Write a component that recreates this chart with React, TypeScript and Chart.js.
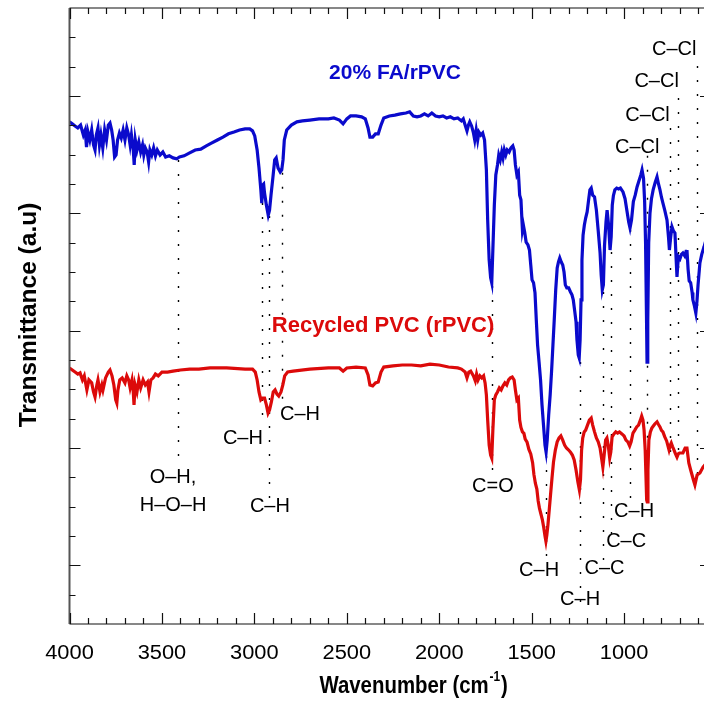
import React, { useEffect, useRef } from "react";
import { Chart, registerables } from "chart.js";

Chart.register(...registerables);

// ---------- axes ----------
const xMin = 530;
const xMax = 4000;
const xTickValues = [4000, 3500, 3000, 2500, 2000, 1500, 1000];
const xTickLabels = ["4000", "3500", "3000", "2500", "2000", "1500", "1000"];
const xMinorStep = 100;
const yMin = 0;
const yMax = 21;
const yMajorTicks = [2, 6, 10, 14, 18];
const xTitle = "Wavenumber (cm";
const xTitleSup = "-1";
const yTitle = "Transmittance (a.u)";

// ---------- series ----------
const seriesNames = ["20% FA/rPVC", "Recycled PVC (rPVC)"];

const faSpectrum: [number, number][] = [
  [4000, 17.12], [3985, 17.05], [3970, 16.98], [3955, 16.91], [3940, 17.01], [3925, 16.67], [3915, 16.84], [3908, 16.26],
  [3900, 16.77], [3890, 16.5], [3880, 16.84], [3870, 16.33], [3862, 16.16], [3855, 16.67], [3846, 16.91], [3838, 16.33],
  [3830, 16.67], [3820, 16.23], [3810, 16.84], [3800, 16.5], [3790, 17.01], [3781, 17.08], [3772, 16.84], [3764, 16.5],
  [3756, 15.92], [3748, 15.99], [3740, 16.5], [3730, 16.74], [3720, 16.57], [3710, 16.84], [3700, 16.5], [3690, 16.91],
  [3680, 16.67], [3672, 16.33], [3665, 16.67], [3655, 16.16], [3650, 15.65], [3644, 16.5], [3635, 16.16], [3625, 16.43],
  [3615, 16.09], [3605, 16.33], [3598, 15.99], [3590, 16.23], [3580, 16.09], [3572, 15.75], [3565, 16.16], [3555, 15.99],
  [3545, 16.23], [3535, 15.96], [3525, 16.16], [3510, 15.99], [3495, 16.09], [3480, 15.92], [3460, 15.96], [3440, 15.89],
  [3420, 15.86], [3405, 15.92], [3380, 15.96], [3350, 16.06], [3320, 16.16], [3290, 16.19], [3260, 16.3], [3230, 16.4],
  [3200, 16.5], [3170, 16.6], [3140, 16.71], [3110, 16.77], [3080, 16.84], [3050, 16.88], [3025, 16.88], [3010, 16.81],
  [2998, 16.64], [2985, 16.16], [2975, 15.55], [2965, 14.8], [2960, 14.35], [2955, 14.97], [2950, 15.0], [2945, 14.69],
  [2935, 14.28], [2925, 13.94], [2918, 14.11], [2910, 14.62], [2900, 15.21], [2890, 15.82], [2882, 15.89], [2872, 15.55],
  [2860, 15.41], [2852, 15.48], [2845, 15.82], [2838, 16.5], [2825, 16.84], [2800, 17.01], [2770, 17.12], [2740, 17.15],
  [2700, 17.18], [2650, 17.22], [2600, 17.22], [2570, 17.25], [2540, 17.18], [2520, 17.05], [2500, 17.22], [2480, 17.32],
  [2450, 17.32], [2420, 17.29], [2400, 17.22], [2385, 16.91], [2375, 16.6], [2360, 16.6], [2345, 16.71], [2330, 16.71],
  [2315, 17.01], [2300, 17.25], [2270, 17.32], [2240, 17.35], [2210, 17.39], [2180, 17.42], [2160, 17.46], [2140, 17.32],
  [2120, 17.29], [2100, 17.32], [2080, 17.39], [2060, 17.32], [2040, 17.42], [2020, 17.32], [2000, 17.29], [1980, 17.32],
  [1960, 17.25], [1940, 17.29], [1920, 17.22], [1900, 17.25], [1880, 17.15], [1870, 17.22], [1860, 17.01], [1850, 16.81],
  [1842, 17.01], [1835, 17.12], [1825, 16.98], [1815, 16.74], [1808, 16.5], [1800, 16.84], [1792, 16.5], [1785, 16.77],
  [1775, 16.67], [1765, 16.74], [1755, 16.5], [1745, 15.48], [1738, 13.77], [1730, 12.41], [1722, 11.8], [1716, 11.63],
  [1710, 12.75], [1702, 14.28], [1694, 15.31], [1685, 15.65], [1678, 15.99], [1670, 15.82], [1662, 16.09], [1655, 15.89],
  [1648, 16.16], [1640, 15.99], [1632, 16.16], [1622, 16.09], [1612, 16.23], [1602, 16.3], [1595, 16.16], [1588, 15.65],
  [1580, 15.31], [1572, 15.41], [1565, 14.62], [1558, 14.46], [1550, 13.43], [1545, 13.6], [1538, 13.36], [1530, 13.02],
  [1520, 12.92], [1512, 12.75], [1505, 12.24], [1498, 11.73], [1490, 11.63], [1482, 11.29], [1475, 10.36], [1468, 9.51],
  [1460, 8.93], [1452, 8.32], [1444, 7.46], [1436, 6.78], [1428, 6.1], [1422, 5.86], [1416, 6.27], [1408, 7.13],
  [1400, 7.81], [1392, 8.66], [1385, 9.51], [1378, 10.36], [1370, 11.39], [1362, 12.14], [1355, 12.34], [1348, 12.48],
  [1340, 12.34], [1332, 12.24], [1325, 12.0], [1318, 11.56], [1310, 11.46], [1300, 11.46], [1290, 11.32], [1282, 11.22],
  [1275, 11.05], [1268, 10.71], [1260, 10.3], [1255, 9.68], [1248, 9.17], [1243, 9.07], [1238, 9.68], [1233, 11.05],
  [1228, 12.41], [1222, 13.26], [1215, 13.6], [1208, 13.84], [1200, 14.05], [1192, 14.46], [1185, 14.8], [1178, 14.86],
  [1170, 14.62], [1160, 14.56], [1150, 14.11], [1140, 13.4], [1130, 12.65], [1124, 11.9], [1118, 11.39], [1112, 11.56],
  [1106, 12.9], [1098, 13.7], [1092, 14.11], [1084, 13.6], [1076, 12.75], [1070, 13.2], [1064, 14.28], [1058, 14.6],
  [1050, 14.8], [1040, 14.86], [1030, 14.83], [1020, 14.86], [1006, 14.73], [995, 14.5], [985, 14.1], [975, 13.7],
  [968, 13.5], [960, 13.77], [950, 14.4], [940, 14.62], [930, 14.9], [920, 15.1], [910, 15.3], [903, 15.48],
  [895, 15.2], [889, 14.4], [884, 13.0], [879, 10.5], [876, 8.93], [872, 10.3], [867, 13.0], [860, 14.01],
  [852, 14.5], [843, 14.8], [832, 15.05], [822, 15.24], [814, 15.0], [806, 14.8], [798, 14.55], [790, 14.35],
  [780, 14.1], [768, 13.77], [760, 13.2], [755, 12.75], [748, 13.2], [741, 13.54], [733, 13.4], [725, 13.33],
  [719, 12.5], [714, 11.83], [709, 12.3], [705, 12.51], [698, 12.45], [690, 12.6], [682, 12.65], [672, 12.55],
  [665, 12.7], [660, 12.75], [654, 12.1], [648, 11.7], [640, 11.63], [632, 11.3], [628, 11.05], [620, 10.85],
  [612, 10.6], [606, 11.0], [600, 11.56], [590, 12.31], [580, 12.6], [568, 12.85], [550, 13.26], [530, 13.5],
];

const rpvcSpectrum: [number, number][] = [
  [4000, 8.73], [3985, 8.66], [3970, 8.59], [3955, 8.52], [3943, 8.56], [3930, 8.32], [3920, 8.46], [3906, 7.98],
  [3895, 8.32], [3880, 8.22], [3870, 7.91], [3862, 7.74], [3852, 8.15], [3846, 8.32], [3835, 7.91], [3825, 8.15],
  [3819, 7.98], [3805, 8.39], [3790, 8.59], [3781, 8.66], [3770, 8.46], [3760, 8.15], [3750, 7.64], [3744, 7.53],
  [3738, 7.98], [3728, 8.32], [3715, 8.39], [3700, 8.22], [3690, 8.46], [3680, 8.32], [3672, 8.05], [3662, 8.32],
  [3655, 7.91], [3651, 7.47], [3645, 8.15], [3635, 7.91], [3625, 8.32], [3615, 8.05], [3602, 8.32], [3590, 8.15],
  [3578, 8.25], [3570, 7.91], [3560, 8.32], [3548, 8.39], [3535, 8.52], [3520, 8.46], [3500, 8.59], [3470, 8.59],
  [3440, 8.62], [3400, 8.66], [3350, 8.69], [3300, 8.69], [3240, 8.73], [3150, 8.73], [3050, 8.69], [3010, 8.69],
  [2995, 8.59], [2985, 8.32], [2975, 7.91], [2965, 7.64], [2955, 7.7], [2945, 7.7], [2935, 7.47], [2926, 7.19],
  [2918, 7.3], [2908, 7.57], [2898, 7.91], [2888, 7.98], [2878, 7.84], [2868, 7.77], [2856, 7.91], [2846, 8.15],
  [2836, 8.46], [2820, 8.59], [2790, 8.62], [2700, 8.69], [2600, 8.73], [2540, 8.73], [2520, 8.62], [2500, 8.73],
  [2450, 8.76], [2400, 8.73], [2385, 8.49], [2375, 8.15], [2360, 8.12], [2345, 8.22], [2330, 8.25], [2315, 8.59],
  [2300, 8.76], [2250, 8.8], [2200, 8.83], [2150, 8.83], [2100, 8.8], [2050, 8.86], [2000, 8.83], [1950, 8.76],
  [1900, 8.73], [1880, 8.69], [1860, 8.59], [1850, 8.39], [1840, 8.59], [1830, 8.62], [1815, 8.46], [1805, 8.29],
  [1798, 8.52], [1790, 8.32], [1780, 8.46], [1770, 8.39], [1760, 8.46], [1752, 8.22], [1745, 7.81], [1738, 6.95],
  [1730, 6.1], [1722, 5.76], [1716, 5.66], [1710, 6.61], [1702, 7.64], [1694, 7.81], [1685, 7.91], [1675, 8.05],
  [1665, 7.98], [1655, 8.12], [1645, 8.22], [1635, 8.15], [1625, 8.32], [1615, 8.39], [1605, 8.42], [1595, 8.32],
  [1588, 7.98], [1580, 7.64], [1572, 7.7], [1565, 6.95], [1558, 6.7], [1550, 6.55], [1542, 6.5], [1535, 6.3],
  [1525, 6.2], [1515, 5.95], [1505, 5.8], [1495, 5.5], [1488, 5.1], [1480, 4.8], [1472, 4.6], [1465, 4.2],
  [1458, 3.95], [1450, 3.75], [1442, 3.55], [1435, 3.3], [1428, 3.0], [1423, 2.82], [1418, 3.03], [1412, 3.38],
  [1405, 3.89], [1398, 4.4], [1390, 4.98], [1382, 5.52], [1372, 5.93], [1362, 6.21], [1352, 6.34], [1342, 6.41],
  [1332, 6.27], [1322, 6.1], [1312, 6.0], [1300, 5.93], [1290, 5.86], [1280, 5.76], [1270, 5.59], [1260, 5.25],
  [1250, 4.84], [1242, 4.57], [1236, 4.91], [1230, 5.93], [1224, 6.34], [1216, 6.55], [1208, 6.61], [1198, 6.78],
  [1188, 6.95], [1178, 7.02], [1170, 6.78], [1160, 6.55], [1150, 6.34], [1140, 6.21], [1130, 6.0], [1122, 5.66],
  [1115, 5.35], [1108, 5.76], [1100, 6.27], [1093, 6.34], [1086, 6.1], [1078, 5.66], [1072, 5.86], [1065, 6.38],
  [1055, 6.48], [1045, 6.55], [1035, 6.51], [1025, 6.55], [1012, 6.48], [1000, 6.41], [990, 6.27], [980, 6.21],
  [970, 6.07], [962, 6.21], [952, 6.51], [942, 6.61], [932, 6.72], [922, 6.78], [912, 6.95], [905, 7.09],
  [898, 6.95], [892, 6.61], [886, 5.93], [882, 5.08], [878, 4.23], [875, 4.16], [871, 5.25], [866, 6.27],
  [858, 6.55], [850, 6.68], [842, 6.75], [834, 6.82], [822, 6.89], [814, 6.8], [806, 6.72], [798, 6.6],
  [790, 6.55], [780, 6.38], [770, 6.24], [757, 5.93], [750, 6.1], [745, 6.17], [738, 6.05], [730, 5.93],
  [722, 5.8], [714, 5.69], [707, 5.8], [700, 5.83], [690, 5.83], [682, 5.83], [670, 6.0], [660, 6.0],
  [650, 5.49], [640, 5.25], [625, 4.91], [617, 4.74], [605, 5.08], [590, 5.15], [573, 5.35], [550, 5.52], [530, 5.66],
];

// ---------- band assignments ----------
const bandTexts = ["O–H,\nH–O–H", "C–H", "C–H", "C–H", "C=O", "C–H", "C–H", "C–C", "C–C", "C–H", "C–Cl", "C–Cl", "C–Cl", "C–Cl"];
const bandWavenumbers = [3414, 2960, 2921, 2853, 1714, 1422, 1238, 1114, 1073, 968, 876, 754, 708, 606];

// annotation layout (data units)
const bandLineTop = [15.82, 14.35, 13.91, 15.38, 11.52, 5.73, 8.93, 11.32, 12.68, 13.43, 15.96, 16.91, 17.93, 19.02];
const bandLineBottom = [5.73, 6.89, 4.23, 7.36, 5.11, 2.32, 0.72, 2.11, 3.07, 4.23, 4.16, 5.76, 5.59, 5.08];
const bandLabelX = [3440, 3062, 2916, 2753, 1710, 1460, 1238, 1106, 989, 946, 929, 873, 824, 729];
const bandLabelY = [5.01, 6.34, 3.99, 7.13, 4.7, 1.81, 0.82, 1.88, 2.83, 3.82, 16.23, 17.35, 18.51, 19.57];
const seriesLabelX = [2239, 2304];
const seriesLabelY = [18.79, 10.16];

const FA_COLOR = "#0a0acc";
const RPVC_COLOR = "#dc0a0a";
const SANS = '"Liberation Sans", Arial, Helvetica, sans-serif';

const decor = {
  id: "decor",
  beforeDatasetsDraw(chart: any) {
    const { ctx, scales } = chart;
    const x = scales.x;
    const y = scales.y;
    ctx.save();
    ctx.strokeStyle = "#000";
    ctx.lineWidth = 1.4;
    ctx.setLineDash([2, 12]);
    bandWavenumbers.forEach((wn, i) => {
      const px = Math.round(x.getPixelForValue(wn)) + 0.5;
      ctx.beginPath();
      ctx.moveTo(px, y.getPixelForValue(bandLineTop[i]));
      ctx.lineTo(px, y.getPixelForValue(bandLineBottom[i]));
      ctx.stroke();
    });
    ctx.restore();
  },
  afterDraw(chart: any) {
    const { ctx, chartArea, scales } = chart;
    const x = scales.x;
    const y = scales.y;
    const { left: L, right: R, top: T, bottom: B } = chartArea;
    ctx.save();

    // frame
    ctx.strokeStyle = "#111";
    ctx.lineWidth = 1.2;
    ctx.beginPath();
    ctx.moveTo(L, T); ctx.lineTo(R, T); ctx.lineTo(R, B); ctx.lineTo(L, B);
    ctx.stroke();
    ctx.strokeStyle = "#555";
    ctx.lineWidth = 2;
    ctx.beginPath();
    ctx.moveTo(L, T); ctx.lineTo(L, B);
    ctx.stroke();

    // x ticks (inward, top and bottom)
    ctx.strokeStyle = "#111";
    ctx.lineWidth = 1.2;
    for (let v = 600; v <= xMax; v += xMinorStep) {
      const px = Math.round(x.getPixelForValue(v)) + 0.5;
      const len = v % 500 === 0 ? 11 : 6;
      ctx.beginPath();
      ctx.moveTo(px, B); ctx.lineTo(px, B - len);
      ctx.moveTo(px, T); ctx.lineTo(px, T + len);
      ctx.stroke();
    }
    // y ticks (inward, left and right)
    for (let v = yMin + 1; v < yMax; v += 1) {
      const py = Math.round(y.getPixelForValue(v)) + 0.5;
      const len = yMajorTicks.includes(v) ? 11 : 6;
      ctx.beginPath();
      ctx.moveTo(L, py); ctx.lineTo(L + len, py);
      ctx.moveTo(R, py); ctx.lineTo(R - len, py);
      ctx.stroke();
    }

    // x tick labels
    ctx.fillStyle = "#000";
    ctx.textAlign = "center";
    ctx.textBaseline = "middle";
    ctx.font = `19.5px ${SANS}`;
    xTickValues.forEach((v, i) => {
      ctx.save();
      ctx.translate(x.getPixelForValue(v), B + 30);
      ctx.scale(1.12, 1);
      ctx.fillText(xTickLabels[i], 0, 0);
      ctx.restore();
    });

    // x title with superscript
    ctx.save();
    ctx.translate((L + 704) / 2 + 26, 693);
    ctx.scale(0.85, 1);
    ctx.textAlign = "left";
    ctx.textBaseline = "alphabetic";
    ctx.font = `bold 24px ${SANS}`;
    const wMain = ctx.measureText(xTitle).width;
    const wClose = ctx.measureText(")").width;
    ctx.font = `bold 14px ${SANS}`;
    const wSup = ctx.measureText(xTitleSup).width;
    const x0 = -(wMain + wSup + wClose) / 2;
    ctx.font = `bold 24px ${SANS}`;
    ctx.fillText(xTitle, x0, 0);
    ctx.font = `bold 14px ${SANS}`;
    ctx.fillText(xTitleSup, x0 + wMain + 1, -12);
    ctx.font = `bold 24px ${SANS}`;
    ctx.fillText(")", x0 + wMain + wSup + 2, 0);
    ctx.restore();

    // y title
    ctx.save();
    ctx.translate(36, 315);
    ctx.rotate(-Math.PI / 2);
    ctx.textAlign = "center";
    ctx.textBaseline = "alphabetic";
    ctx.font = `bold 24.5px ${SANS}`;
    ctx.fillText(yTitle, 0, 0);
    ctx.restore();

    // band labels
    ctx.font = `20px ${SANS}`;
    ctx.textAlign = "center";
    ctx.textBaseline = "middle";
    ctx.fillStyle = "#000";
    bandTexts.forEach((t, i) => {
      const px = x.getPixelForValue(bandLabelX[i]);
      const py = y.getPixelForValue(bandLabelY[i]);
      t.split("\n").forEach((line, k) => ctx.fillText(line, px, py + k * 28));
    });

    // series labels
    ctx.font = `bold 21px ${SANS}`;
    ctx.fillStyle = FA_COLOR;
    ctx.fillText(seriesNames[0], x.getPixelForValue(seriesLabelX[0]), y.getPixelForValue(seriesLabelY[0]));
    ctx.font = `bold 22px ${SANS}`;
    ctx.fillStyle = RPVC_COLOR;
    ctx.fillText(seriesNames[1], x.getPixelForValue(seriesLabelX[1]), y.getPixelForValue(seriesLabelY[1]));

    ctx.restore();
  },
};

export default function App() {
  const ref = useRef<HTMLCanvasElement>(null);
  useEffect(() => {
    const chart = new Chart(ref.current as HTMLCanvasElement, {
      type: "line",
      data: {
        datasets: [
          {
            label: seriesNames[0],
            data: faSpectrum.map(([wx, wy]) => ({ x: wx, y: wy })),
            borderColor: FA_COLOR,
            borderWidth: 3.2,
            pointRadius: 0,
            fill: false,
            tension: 0,
          },
          {
            label: seriesNames[1],
            data: rpvcSpectrum.map(([wx, wy]) => ({ x: wx, y: wy })),
            borderColor: RPVC_COLOR,
            borderWidth: 3.2,
            pointRadius: 0,
            fill: false,
            tension: 0,
          },
        ],
      },
      options: {
        responsive: false,
        animation: false,
        devicePixelRatio: 1,
        layout: { padding: { left: 69.5, top: 8, right: 9, bottom: 84 } },
        plugins: { legend: { display: false }, tooltip: { enabled: false } },
        scales: {
          x: { type: "linear", reverse: true, min: xMin, max: xMax, display: false },
          y: { type: "linear", min: yMin, max: yMax, display: false },
        },
      },
      plugins: [decor],
    } as any);
    return () => chart.destroy();
  }, []);
  return (
    <div style={{ position: "fixed", left: 0, top: 0, width: 704, height: 708, overflow: "hidden", background: "#fff" }}>
      <canvas ref={ref} width={720} height={708} style={{ display: "block" }} />
    </div>
  );
}
